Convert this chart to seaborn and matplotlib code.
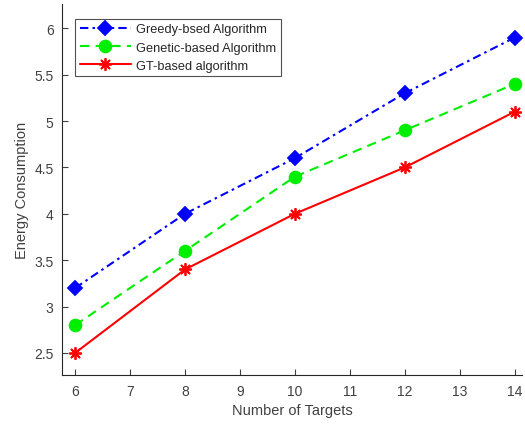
import matplotlib
matplotlib.use("Agg")
import matplotlib.pyplot as plt
import seaborn as sns
import pandas as pd

targets = [6, 8, 10, 12, 14]
greedy = [3.2, 4.0, 4.6, 5.3, 5.9]
genetic = [2.8, 3.6, 4.4, 4.9, 5.4]
gt = [2.5, 3.4, 4.0, 4.5, 5.1]
labels = ["Greedy-bsed Algorithm", "Genetic-based Algorithm", "GT-based algorithm"]
xticks = [6, 7, 8, 9, 10, 11, 12, 13, 14]
yticks = [2.5, 3, 3.5, 4, 4.5, 5, 5.5, 6]

sns.set_style("white")
plt.rcParams['font.family'] = ['Liberation Sans', 'DejaVu Sans']

fig = plt.figure(figsize=(5.25, 4.27), dpi=100)
ax = fig.add_axes([0.118, 0.119, 0.876, 0.869])

styles = [
    dict(color="#0000ff", linestyle=(0, (4, 2, 1.2, 2)), marker="D", markersize=7.5),
    dict(color="#00ee00", linestyle=(0, (4.5, 3)), marker="o", markersize=8.5),
    dict(color="#ff0000", linestyle="-", marker=(8, 2, 0), markersize=9),
]
for vals, lab, st in zip([greedy, genetic, gt], labels, styles):
    df = pd.DataFrame({"x": targets, "y": vals})
    sns.lineplot(data=df, x="x", y="y", ax=ax, label=lab, linewidth=1.5,
                 color=st["color"], linestyle=st["linestyle"], marker=st["marker"],
                 markersize=st["markersize"], markeredgecolor=st["color"],
                 markerfacecolor=st["color"], markeredgewidth=1.3)

ax.set_xlim(5.76, 14.13)
ax.set_ylim(2.26, 6.26)
ax.set_xticks(xticks)
ax.set_yticks(yticks)
ax.set_yticklabels([f"{v:g}" for v in yticks])
ax.set_xlabel("Number of Targets", fontsize=10.5, color="#404040", labelpad=4)
ax.set_ylabel("Energy Consumption", fontsize=10.5, color="#404040", labelpad=4)
ax.tick_params(direction="in", length=4, width=0.8, labelsize=10, colors="#404040",
               left=True, bottom=True, pad=6)
for s in ["top", "right"]:
    ax.spines[s].set_visible(False)
for s in ["left", "bottom"]:
    ax.spines[s].set_color("#262626")
    ax.spines[s].set_linewidth(0.8)

leg = ax.legend(loc="upper left", bbox_to_anchor=(0.015, 0.978), fontsize=9.2,
                frameon=True, fancybox=False, edgecolor="#262626", handlelength=4.0,
                borderpad=0.35, labelspacing=0.5, handletextpad=0.4)
leg.get_frame().set_linewidth(0.8)
for t in leg.get_texts():
    t.set_color("#262626")

fig.savefig("out.png", dpi=100)
